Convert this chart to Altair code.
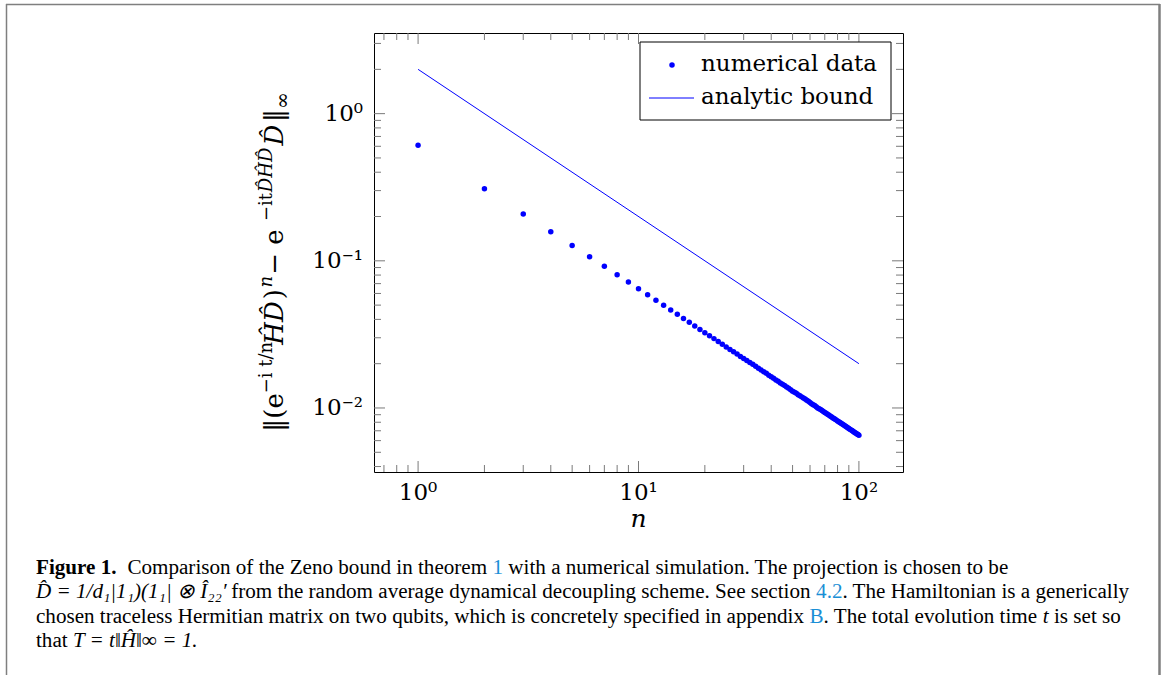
import altair as alt
import pandas as pd

# ---------------- data ----------------
n_values = list(range(1, 101))
numerical_values = [
    0.609, 0.3085, 0.208, 0.1575, 0.127, 0.1065, 0.0917, 0.0805, 0.0718, 0.0647,
    0.0589, 0.0540, 0.0499, 0.0464, 0.0433, 0.0406, 0.0382, 0.0361, 0.0342, 0.0325,
    0.0310, 0.0296, 0.0283, 0.0271, 0.0260, 0.0250, 0.0241, 0.0233, 0.0224, 0.0217,
    0.0210, 0.0204, 0.0198, 0.0192, 0.0186, 0.0181, 0.0176, 0.0172, 0.0167, 0.0163,
    0.0159, 0.0155, 0.0152, 0.0148, 0.0145, 0.0142, 0.0139, 0.0136, 0.0133, 0.0130,
    0.0128, 0.0126, 0.0123, 0.0121, 0.0119, 0.0117, 0.0115, 0.0113, 0.0111, 0.0109,
    0.0107, 0.0105, 0.0104, 0.0102, 0.0100, 0.00989, 0.00975, 0.00960, 0.00946, 0.00933,
    0.00920, 0.00907, 0.00895, 0.00882, 0.00871, 0.00859, 0.00848, 0.00837, 0.00827, 0.00816,
    0.00806, 0.00796, 0.00787, 0.00777, 0.00768, 0.00759, 0.00751, 0.00742, 0.00734, 0.00726,
    0.00718, 0.00710, 0.00702, 0.00695, 0.00687, 0.00680, 0.00673, 0.00666, 0.00660, 0.00653,
]
bound_n = [1, 100]
bound_values = [2.0, 0.02]

x_major = [1, 10, 100]
x_tick_labels = ["10⁰", "10¹", "10²"]
x_minor = [0.7, 0.8, 0.9, 2, 3, 4, 5, 6, 7, 8, 9, 20, 30, 40, 50, 60, 70, 80, 90]
y_major = [0.01, 0.1, 1]
y_tick_labels = ["10⁻²", "10⁻¹", "10⁰"]
y_minor = [0.004, 0.005, 0.006, 0.007, 0.008, 0.009,
           0.02, 0.03, 0.04, 0.05, 0.06, 0.07, 0.08, 0.09,
           0.2, 0.3, 0.4, 0.5, 0.6, 0.7, 0.8, 0.9, 2, 3]

legend_labels = ["numerical data", "analytic bound"]
x_title = "n"

LINK = "#1a8fd6"
# caption segments per line: (text, weight, style, colour, fixed width or None)
caption_lines = [
    [("Figure 1.", "bold", "normal", "black", None),
     ("  Comparison of the Zeno bound in theorem ", "normal", "normal", "black", None),
     ("1", "normal", "normal", LINK, None),
     (" with a numerical simulation. The projection is chosen to be", "normal", "normal", "black", None)],
    [("D̂ = 1/d₁|1₁)(1₁| ⊗ Î₂₂′", "normal", "italic", "black", 190),
     (" from the random average dynamical decoupling scheme. See section ", "normal", "normal", "black", None),
     ("4.2", "normal", "normal", LINK, None),
     (". The Hamiltonian is a generically", "normal", "normal", "black", None)],
    [("chosen traceless Hermitian matrix on two qubits, which is concretely specified in appendix ", "normal", "normal", "black", None),
     ("B", "normal", "normal", LINK, None),
     (". The total evolution time ", "normal", "normal", "black", None),
     ("t", "normal", "italic", "black", None),
     (" is set so", "normal", "normal", "black", None)],
    [("that ", "normal", "normal", "black", None),
     ("T = t‖Ĥ‖∞ = 1.", "normal", "italic", "black", None)],
]
caption_baselines = [574, 598, 623, 647]

# y-axis title pieces: (text, role, style, em-width estimate)
ytitle_pieces = [
    ("‖(e", "main", "normal", 1.48),
    ("−i t/n", "sup", "normal", 2.70),
    ("ĤD̂", "main", "italic", 1.75),
    (")", "main", "normal", 0.45),
    ("n", "sup", "italic", 0.70),
    (" − e", "main", "normal", 2.07),
    ("−it", "sup", "normal", 1.60),
    ("D̂ĤD̂", "sup", "italic", 2.60),
    ("D̂", "main", "italic", 0.90),
    ("‖", "main", "normal", 0.50),
    ("∞", "sub", "normal", 0.84),
]

# ---------------- geometry ----------------
PAGE_W, PAGE_H = 1165, 675
PL, PT = 374, 33
W, H = 529, 439
MAJ, MIN = 11, 7
FONT = "DejaVu Serif"
CAP_FONT = "Liberation Serif"
CAP_FS = 21.1
BLUE = "#0000ff"
TICK_C = "#7a7a7a"

# Times-compatible advance widths (1/1000 em) for laying caption pieces side by side
_w = {" ": 250, ".": 250, ",": 250, "(": 333, ")": 333, "/": 278, "|": 200, "=": 564,
      "A": 722, "B": 667, "C": 667, "D": 722, "F": 556, "H": 722, "I": 333, "S": 556,
      "T": 611, "Z": 611, "a": 444, "b": 500, "c": 444, "d": 500, "e": 444, "f": 333,
      "g": 500, "h": 500, "i": 278, "j": 278, "k": 500, "l": 278, "m": 778, "n": 500,
      "o": 500, "p": 500, "q": 500, "r": 333, "s": 389, "t": 278, "u": 500, "v": 500,
      "w": 722, "x": 500, "y": 500, "z": 444}
_wb = {"F": 611, "i": 278, "g": 500, "u": 556, "r": 444, "e": 444, " ": 250, ".": 250}


def text_width(s, weight):
    tot = 0
    for ch in s:
        if ch == "\u0302":
            continue
        if weight == "bold":
            tot += _wb.get(ch, 500)
        else:
            tot += _w.get(ch, 500 if ch.isdigit() else 520)
    return tot / 1000 * CAP_FS


xs = alt.Scale(type="log", domain=[10 ** -0.2, 10 ** 2.2], nice=False)
ys = alt.Scale(type="log", domain=[10 ** -2.435, 10 ** 0.548], nice=False)

df_num = pd.DataFrame({"n": n_values, "v": numerical_values})
df_bound = pd.DataFrame({"n": bound_n, "v": bound_values})
one = pd.DataFrame({"k": [0]})

layers = []

points = alt.Chart(df_num).mark_circle(size=30, color=BLUE, opacity=1).encode(
    x=alt.X("n:Q", scale=xs, axis=None),
    y=alt.Y("v:Q", scale=ys, axis=None),
)
layers.append(points)

line = alt.Chart(df_bound).mark_line(color=BLUE, strokeWidth=1).encode(
    x=alt.X("n:Q", scale=xs, axis=None),
    y=alt.Y("v:Q", scale=ys, axis=None),
)
layers.append(line)

# inward ticks on all four sides
for vals, length in [(x_major, MAJ), (x_minor, MIN)]:
    d = pd.DataFrame({"n": vals})
    layers.append(alt.Chart(d).mark_rule(color=TICK_C, strokeWidth=1).encode(
        x=alt.X("n:Q", scale=xs, axis=None), y=alt.value(H), y2=alt.value(H - length)))
    layers.append(alt.Chart(d).mark_rule(color=TICK_C, strokeWidth=1).encode(
        x=alt.X("n:Q", scale=xs, axis=None), y=alt.value(0), y2=alt.value(length)))
for vals, length in [(y_major, MAJ), (y_minor, MIN)]:
    d = pd.DataFrame({"v": vals})
    layers.append(alt.Chart(d).mark_rule(color=TICK_C, strokeWidth=1).encode(
        y=alt.Y("v:Q", scale=ys, axis=None), x=alt.value(0), x2=alt.value(length)))
    layers.append(alt.Chart(d).mark_rule(color=TICK_C, strokeWidth=1).encode(
        y=alt.Y("v:Q", scale=ys, axis=None), x=alt.value(W), x2=alt.value(W - length)))

# tick labels (placed through the scales)
df_xl = pd.DataFrame({"n": x_major, "lab": x_tick_labels})
layers.append(alt.Chart(df_xl).mark_text(font=FONT, fontSize=23, align="center", baseline="middle",
                                         color="black").encode(
    x=alt.X("n:Q", scale=xs, axis=None), y=alt.value(H + 21), text="lab:N"))
df_yl = pd.DataFrame({"v": y_major, "lab": y_tick_labels})
layers.append(alt.Chart(df_yl).mark_text(font=FONT, fontSize=23, align="right", baseline="middle",
                                         color="black").encode(
    y=alt.Y("v:Q", scale=ys, axis=None), x=alt.value(-11), text="lab:N"))

# x title
layers.append(alt.Chart(one).mark_text(font=FONT, fontSize=25, fontStyle="italic", align="center",
                                       baseline="middle", color="black").encode(
    x=alt.value(W / 2), y=alt.value(486), text=alt.value(x_title)))

# legend box
lx0, lx1, ly0, ly1 = 640 - PL, 891 - PL, 42 - PT, 120 - PT
layers.append(alt.Chart(one).mark_rect(fill="white", stroke="black", strokeWidth=1).encode(
    x=alt.value(lx0), x2=alt.value(lx1), y=alt.value(ly0), y2=alt.value(ly1)))
layers.append(alt.Chart(one).mark_circle(size=30, color=BLUE, opacity=1).encode(
    x=alt.value(672 - PL), y=alt.value(65 - PT)))
layers.append(alt.Chart(one).mark_rule(color=BLUE, strokeWidth=1).encode(
    x=alt.value(649 - PL), x2=alt.value(694 - PL), y=alt.value(98 - PT)))
for lab, yy in zip(legend_labels, [64, 97]):
    layers.append(alt.Chart(one).mark_text(font=FONT, fontSize=23, align="left", baseline="middle",
                                           color="black").encode(
        x=alt.value(701 - PL), y=alt.value(yy - PT), text=alt.value(lab)))

# y-axis title, built from pieces (rotated)
sizes = {"main": 26, "sup": 18, "sub": 20}
base_x = {"main": 283, "sup": 272, "sub": 289}
total = sum(w * sizes[r] for _, r, _, w in ytitle_pieces)
ypos = 262 + total / 2
for txt, role, style, w in ytitle_pieces:
    layers.append(alt.Chart(one).mark_text(font=FONT, fontSize=sizes[role], fontStyle=style,
                                           align="left", baseline="alphabetic", angle=270,
                                           color="black").encode(
        x=alt.value(base_x[role] - PL), y=alt.value(ypos - PT), text=alt.value(txt)))
    ypos -= w * sizes[role]

# caption (pieces laid side by side; surrounding spaces become offsets)
for segs, bl in zip(caption_lines, caption_baselines):
    xx = 36.0
    for txt, weight, style, col, fixed in segs:
        stripped = txt.strip(" ")
        lead = len(txt) - len(txt.lstrip(" "))
        start = xx + text_width(" " * lead, weight)
        layers.append(alt.Chart(one).mark_text(font=CAP_FONT, fontSize=CAP_FS, fontWeight=weight,
                                               fontStyle=style, align="left", baseline="alphabetic",
                                               color=col).encode(
            x=alt.value(start - PL), y=alt.value(bl - PT), text=alt.value(stripped)))
        xx += fixed if fixed is not None else text_width(txt, weight)

# outer page frame
FR = "#7f7f7f"
layers.append(alt.Chart(one).mark_rule(color=FR, strokeWidth=1.5).encode(
    x=alt.value(6 - PL), x2=alt.value(1160 - PL), y=alt.value(4.5 - PT)))
layers.append(alt.Chart(one).mark_rule(color=FR, strokeWidth=1.5).encode(
    x=alt.value(6.5 - PL), y=alt.value(4 - PT), y2=alt.value(PAGE_H - PT)))
layers.append(alt.Chart(one).mark_rule(color=FR, strokeWidth=2.5).encode(
    x=alt.value(1159.5 - PL), y=alt.value(4 - PT), y2=alt.value(PAGE_H - PT)))

chart = alt.layer(*layers).properties(
    width=W, height=H,
    padding={"left": PL, "top": PT, "right": PAGE_W - PL - W, "bottom": PAGE_H - PT - H},
    autosize=alt.AutoSizeParams(type="none"),
    background="white",
).configure_view(stroke="black", strokeWidth=1)

chart.save("out.html", embed_options={"renderer": "svg", "actions": False})
